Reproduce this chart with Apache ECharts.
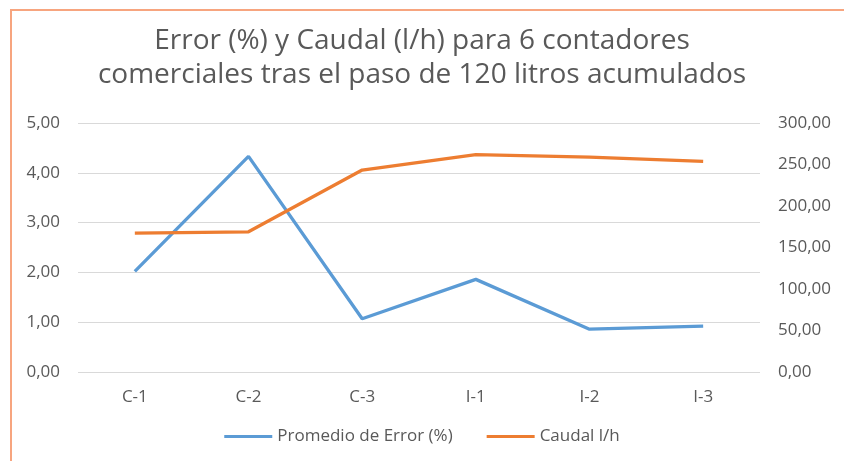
<!DOCTYPE html>
<html><head><meta charset="utf-8">
<script src="https://cdn.jsdelivr.net/npm/echarts@6/dist/echarts.min.js"></script>
<style>
html,body{margin:0;padding:0;background:#fff;}
#frame{position:absolute;left:10px;top:9px;width:900px;height:500px;border-left:2px solid #F7A57F;border-top:2px solid #F7A57F;box-sizing:border-box;}
#main{position:absolute;left:0;top:0;width:844px;height:461px;}
</style></head>
<body>
<div id="frame"></div>
<div id="main"></div>
<script>
const categories = ['C-1','C-2','C-3','I-1','I-2','I-3'];
const errorValues = [2.02, 4.33, 1.07, 1.86, 0.86, 0.92];
const caudalValues = [167.3, 168.9, 243.3, 261.8, 259.0, 253.8];
const seriesNames = ['Promedio de Error (%)', 'Caudal l/h'];
const titleText = 'Error (%) y Caudal (l/h) para 6 contadores\ncomerciales tras el paso de 120 litros acumulados';

const fmt = v => v.toFixed(2).replace('.', ',');
const FONT = 'Open Sans';
const chart = echarts.init(document.getElementById('main'), null, {renderer:'canvas'});
chart.setOption({
  backgroundColor: 'transparent',
  animation: false,
  title: {
    text: titleText, left: 'center', top: 19,
    textStyle: {fontFamily: FONT, fontSize: 28, fontWeight: 'normal', color: '#595959', lineHeight: 34}
  },
  legend: {
    bottom: 11, left: 'center', itemWidth: 48, itemHeight: 3, itemGap: 34,
    icon: 'rect',
    textStyle: {fontFamily: FONT, fontSize: 17, color: '#595959'},
    data: seriesNames
  },
  grid: {left: 78, right: 84, top: 123, bottom: 89, containLabel: false},
  xAxis: {
    type: 'category', data: categories, boundaryGap: true,
    axisLine: {show: false}, axisTick: {show: false},
    axisLabel: {fontFamily: FONT, fontSize: 17, color: '#595959', margin: 17}
  },
  yAxis: [
    {type: 'value', min: 0, max: 5, interval: 1,
     axisLine: {show: false}, axisTick: {show: false},
     splitLine: {lineStyle: {color: '#D9D9D9', width: 1}},
     axisLabel: {fontFamily: FONT, fontSize: 17, color: '#595959', margin: 18, formatter: fmt}},
    {type: 'value', min: 0, max: 300, interval: 50,
     axisLine: {show: false}, axisTick: {show: false}, splitLine: {show: false},
     axisLabel: {fontFamily: FONT, fontSize: 17, color: '#595959', margin: 18, formatter: fmt}}
  ],
  series: [
    {name: seriesNames[0], type: 'line', data: errorValues, yAxisIndex: 0,
     symbol: 'none', lineStyle: {width: 3.3, color: '#5B9BD5'}, itemStyle: {color: '#5B9BD5'}},
    {name: seriesNames[1], type: 'line', data: caudalValues, yAxisIndex: 1,
     symbol: 'none', lineStyle: {width: 3.3, color: '#ED7D31'}, itemStyle: {color: '#ED7D31'}}
  ]
});
</script>
</body></html>
